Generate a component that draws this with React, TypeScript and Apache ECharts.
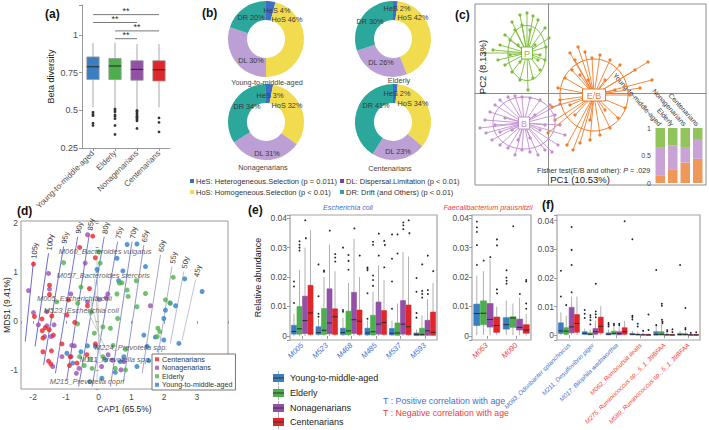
import React, { useEffect, useRef } from "react";
import * as echarts from "echarts";

const FONT = "'Liberation Sans', Arial, Helvetica, sans-serif";

// ---------------- shared ----------------
const ageGroups = ["Young-to-middle-aged", "Elderly", "Nonagenarians", "Centenarians"];

// ---------------- (a) beta diversity ----------------
// [min, Q1, median, Q3, max]
const betaStats = [
  [0.52, 0.705, 0.79, 0.855, 0.947],
  [0.52, 0.705, 0.795, 0.845, 0.95],
  [0.51, 0.70, 0.772, 0.83, 0.94],
  [0.52, 0.695, 0.77, 0.83, 0.94],
];
const betaOutliers = [
  [0.487, 0.475, 0.465, 0.415, 0.40],
  [0.51, 0.50, 0.49, 0.47, 0.46, 0.445, 0.40, 0.34],
  [0.50, 0.495, 0.49, 0.48, 0.47, 0.46, 0.455, 0.45, 0.44, 0.43, 0.38],
  [0.45, 0.42, 0.357],
];
const betaSigFrom = [0, 0, 1, 1];
const betaSigTo = [3, 2, 3, 2];
const betaSigLevel = [1.136, 1.084, 1.028, 0.976];
const betaSigText = ["**", "**", "**", "**"];

// ---------------- (b) community assembly ----------------
const processCodes = ["HeS", "HoS", "DL", "DR"];
const processLegend = [
  "HeS: Heterogeneous.Selection (p = 0.011)",
  "HoS: Homogeneous.Selection (p < 0.01)",
  "DL: Dispersal.Limitation (p < 0.01)",
  "DR: Drift (and Others) (p < 0.01)",
];
const donutYoung = [4, 46, 30, 20];
const donutElderly = [2, 42, 26, 30];
const donutNona = [3, 32, 31, 34];
const donutCent = [2, 34, 23, 41];

// ---------------- (c) enterotype PCoA ----------------
const pcoaP = [
  [-6.3, 4.0], [-5.5, 4.3], [-4.8, 4.8], [-4.3, 5.8], [-3.6, 7.1], [-2.8, 7.8], [-2.1, 8.0], [-1.5, 7.7],
  [-1.0, 7.3], [-0.3, 6.5], [0.1, 5.5], [-0.2, 4.6], [-0.3, 3.3], [-0.8, 2.3], [-1.5, 1.5], [-2.0, 0.3],
  [-2.8, 1.3], [-3.6, 2.1], [-4.3, 2.8], [-5.0, 3.3], [-3.8, 3.8], [-3.0, 4.8], [-1.3, 4.8], [-1.0, 3.3],
  [-2.8, 3.1], [-1.8, 6.3], [-3.3, 6.3], [-2.6, 6.8], [-0.8, 3.8], [-3.8, 5.3],
];
const pcoaB = [
  [-6.8, -3.5], [-6.3, -2.7], [-5.8, -1.9], [-5.3, -1.2], [-4.8, -0.7], [-4.0, -0.4], [-3.3, -0.3], [-2.6, -0.4],
  [-1.8, -0.5], [-0.8, -0.7], [0.2, -1.2], [1.2, -1.1], [0.7, -2.2], [1.2, -3.2], [1.7, -4.2], [1.0, -5.2],
  [0.4, -5.9], [-0.3, -5.7], [-1.0, -6.2], [-1.8, -5.9], [-2.6, -5.7], [-3.3, -6.2], [-4.0, -5.5], [-4.8, -5.2],
  [-5.6, -4.7], [-6.2, -4.0], [-5.3, -3.2], [-4.3, -2.5], [-3.6, -3.7], [-1.3, -2.2], [-0.8, -3.7], [-1.8, -4.5],
  [-3.0, -4.7], [-0.3, -3.2], [-4.8, -3.9],
];
const pcoaEB = [
  [2.2, 4.0], [3.0, 4.6], [3.7, 4.1], [4.4, 3.5], [5.2, 3.8], [6.2, 3.3], [7.2, 2.8], [8.7, 2.3],
  [10.0, 3.1], [10.4, 1.3], [9.2, 0.5], [8.2, -0.2], [7.7, -1.5], [7.0, -2.5], [6.2, -3.5], [5.2, -4.2],
  [4.2, -4.7], [3.2, -5.0], [2.5, -5.7], [1.9, -5.2], [0.0, -4.0], [0.7, -2.7], [0.4, -1.4], [1.2, -0.7],
  [1.0, 0.5], [1.7, 1.5], [2.4, 2.3], [3.2, 1.8], [4.0, 1.3], [5.7, 1.3], [6.7, 0.3], [5.7, -1.7],
  [4.2, -2.7], [2.7, -2.2], [2.2, -1.2], [3.7, -0.7], [5.2, -0.7], [2.7, 3.3],
];
const pcoaNames = ["P", "B", "E/B"];
const pcoaCentX = [-2.1, -2.4, 4.6];
const pcoaCentY = [4.0, -3.0, -0.2];
const pcoaRadX = [1.9, 3.1, 3.4];
const pcoaRadY = [2.75, 2.6, 3.6];
const enteroShareEB = [0.13, 0.25, 0.37, 0.44];
const enteroShareB = [0.51, 0.43, 0.27, 0.36];
const enteroShareP = [0.36, 0.32, 0.36, 0.20];
const insetTicks = ["0", "0.5", "1"];

// ---------------- (d) db-RDA ----------------
const capCent = [
  [-1.99, 1.16], [-0.18, 1.73], [-0.58, 1.50], [-0.10, 1.29], [-1.50, 0.73], [-0.28, 0.66], [-1.50, 0.54],
  [-0.92, 0.43], [-0.34, 0.31], [-1.96, 0.09], [-1.73, 0.04], [-1.43, 0.10], [-0.97, 0.12], [-0.73, -0.03],
  [-1.63, -0.14], [-1.72, -0.20], [-1.51, -0.18], [-1.38, -0.29], [-1.70, -0.35], [-1.12, -0.47], [-1.70, -0.63],
  [-1.44, -0.61], [-1.53, -0.82], [-1.46, -0.88], [-0.87, -0.73], [-0.89, -0.91], [-0.66, -0.86], [-0.36, -0.69],
  [-0.10, -0.47],
];
const capNona = [
  [-2.14, 0.62], [-0.34, 1.76], [-0.41, 1.18], [-1.53, 0.97], [-1.50, 0.65], [-0.85, 0.55], [-0.34, 0.39],
  [0.28, 0.55], [0.23, 0.47], [0.03, 0.44], [1.58, 0.31], [-1.99, 0.17], [-1.58, -0.10], [-1.84, -0.08],
  [-1.36, -0.08], [-1.65, -0.32], [-1.45, -0.32], [-0.82, -0.50], [-0.74, -0.51], [-1.12, -0.73], [-0.84, -0.73],
  [-1.40, -0.93], [-0.68, -1.07], [-0.60, -0.97], [0.29, -0.69], [0.42, -0.80], [0.77, -0.83], [0.68, -1.00],
  [0.09, -0.93], [-1.58, 0.19],
];
const capElderly = [
  [-1.07, 1.19], [0.00, 1.41], [0.05, 1.18], [-0.54, 0.69], [-1.28, 0.39], [-0.64, 0.36], [-0.23, 0.18],
  [0.56, 0.55], [0.87, 0.63], [0.64, 0.77], [0.71, 0.78], [0.90, 0.50], [1.15, 0.82], [1.43, 0.56],
  [1.17, 0.29], [0.58, 0.05], [0.36, -0.15], [0.13, -0.12], [-0.64, -0.06], [-0.13, -0.25], [0.44, -0.50],
  [0.82, -0.58], [1.79, -0.32], [1.81, -0.15], [1.87, -0.22], [2.28, 0.89], [2.04, 0.43], [2.17, 0.37],
  [-0.58, -0.73], [-0.26, -0.78], [-0.20, -0.97], [-0.44, -0.91], [0.13, -0.73], [0.51, -0.97], [0.82, -1.00],
];
const capYoung = [
  [0.87, 1.56], [1.17, 1.57], [0.56, 1.28], [-0.05, 1.05], [0.74, 1.02], [1.43, 1.11], [0.61, 0.82],
  [2.63, 0.86], [3.16, 0.60], [2.19, 0.36], [2.35, 0.31], [2.04, 0.22], [1.99, 0.05], [1.38, -0.29],
  [1.73, -0.33], [1.99, -0.39], [2.45, -0.46], [1.48, -0.52], [1.17, -0.93], [1.53, -0.81], [0.66, -0.83],
  [0.21, -0.80], [-0.10, -0.52], [-0.34, -0.51], [-0.54, -0.63], [-0.79, -0.86], [0.77, -0.73], [0.51, -1.05],
  [-0.27, -1.24], [0.10, -1.17], [-0.97, -0.66],
];
const ageLineLabels = ["105y", "100y", "95y", "90y", "85y", "80y", "75y", "70y", "65y", "60y", "55y", "50y", "45y"];
const ageLineBottomX = [-2.24, -1.94, -1.68, -1.32, -0.97, -0.61, -0.20, 0.36, 0.76, 1.33, 1.79, 2.19, 2.55];
const ageLineBottomY = [-0.42, -0.52, -0.90, -1.07, -1.20, -1.34, -1.34, -1.34, -1.24, -1.07, -0.80, -0.46, -0.39];
const ageLineTopX = [-1.99, -1.53, -1.07, -0.64, -0.28, 0.17, 0.58, 1.02, 1.38, 1.89, 2.24, 2.60, 2.96];
const ageLineTopY = [1.21, 1.38, 1.52, 1.72, 1.79, 1.72, 1.62, 1.62, 1.55, 1.35, 1.11, 1.01, 0.84];
const speciesLabels = [
  "M060_Bacteroides vulgatus", "M057_Bacteroides stercoris", "M005_Escherichia coli", "M523_Escherichia coli",
  "M224_Prevotella spp.", "M111_Prevotella spp.", "M215_Prevotella copri",
];
const speciesLabelX = [-1.23, -1.29, -1.90, -1.69, -0.13, -0.59, -1.51];
const speciesLabelY = [1.41, 0.92, 0.45, 0.22, -0.55, -0.78, -1.24];
const speciesArrowX = [-0.05, -0.12, -0.25, -0.30, 0.20, 0.05, -0.05];
const speciesArrowY = [1.25, 0.85, 0.45, 0.15, -0.55, -0.72, -1.20];

// ---------------- (e) E. coli & F. prausnitzii, (f) others ----------------
const ecoliCats = ["M005", "M523", "M468", "M485", "M537", "M593"];
const ecoliYoung = [
  [0, 0.0006, 0.0015, 0.0036, 0.0075], [0, 0.0005, 0.0011, 0.0031, 0.0058], [0, 0.0004, 0.0011, 0.0026, 0.0062],
  [0, 0.0003, 0.0010, 0.0026, 0.0052], [0, 0.0003, 0.0009, 0.0025, 0.0052], [0, 0.0001, 0.0005, 0.0010, 0.0022],
];
const ecoliYoungOut = [
  [0.0112, 0.0125, 0.0168, 0.0185], [0.0065, 0.0075, 0.0135, 0.0243], [0.0082, 0.0088, 0.0300],
  [0.0058, 0.0063, 0.0145, 0.0223, 0.0228, 0.0232], [0.0092, 0.0185, 0.0262, 0.0345], [0.0062, 0.0078, 0.0150, 0.0197],
];
const ecoliElderly = [
  [0, 0.0006, 0.0024, 0.0100, 0.0225], [0, 0.0005, 0.0019, 0.0093, 0.0200], [0, 0.0004, 0.0017, 0.0084, 0.0180],
  [0, 0.0003, 0.0014, 0.0070, 0.0150], [0, 0.0002, 0.0010, 0.0044, 0.0110], [0, 0.0001, 0.0005, 0.0026, 0.0070],
];
const ecoliElderlyOut = [
  [0.0290, 0.0300, 0.0310, 0.0322], [0.0210, 0.0218, 0.0222], [0.0225, 0.0255, 0.0275],
  [0.0170, 0.0190, 0.0205, 0.0310, 0.0320], [0.0165, 0.0280, 0.0345], [0.0132, 0.0145, 0.0155, 0.0245],
];
const ecoliNona = [
  [0, 0.0008, 0.0052, 0.0135, 0.0300], [0, 0.0007, 0.0044, 0.0160, 0.0310], [0, 0.0008, 0.0055, 0.0148, 0.0330],
  [0, 0.0006, 0.0040, 0.0115, 0.0240], [0, 0.0006, 0.0040, 0.0120, 0.0285], [0, 0.0002, 0.0017, 0.0053, 0.0125],
];
const ecoliNonaOut = [[0.0335, 0.0395], [0.0360], [0.0368], [0.0275, 0.0350], [0.0365, 0.0378, 0.0388], [0.0145, 0.0158, 0.0275]];
const ecoliCent = [
  [0, 0.0005, 0.0078, 0.0172, 0.0360], [0, 0.0005, 0.0065, 0.0092, 0.0220], [0, 0.0005, 0.0050, 0.0088, 0.0200],
  [0, 0.0005, 0.0045, 0.0086, 0.0190], [0, 0.0004, 0.0031, 0.0105, 0.0270], [0, 0.0002, 0.0012, 0.0081, 0.0180],
];
const ecoliCentOut = [[], [0.0255, 0.0268, 0.0280], [0.0275], [0.0235, 0.0312, 0.0325], [0.0352, 0.0395], [0.0222]];

const faecaliCats = ["M053", "M090"];
const faecaliYoung = [[0.0003, 0.0035, 0.0076, 0.0108, 0.0205], [0.0003, 0.0023, 0.0038, 0.0062, 0.0120]];
const faecaliYoungOut = [[0.0243, 0.0310, 0.0355, 0.0370, 0.0390], [0.0180, 0.0190, 0.0200, 0.0225]];
const faecaliElderly = [[0.0003, 0.0038, 0.0077, 0.0119, 0.0220], [0.0003, 0.0029, 0.0061, 0.0065, 0.0110]];
const faecaliElderlyOut = [[0.0258], [0.0375]];
const faecaliNona = [[0.0002, 0.0030, 0.0056, 0.0110, 0.0262], [0.0002, 0.0020, 0.0029, 0.0057, 0.0130]];
const faecaliNonaOut = [[0.0270], [0.0145]];
const faecaliCent = [[0.0002, 0.0012, 0.0035, 0.0064, 0.0100], [0.0001, 0.0009, 0.0020, 0.0038, 0.0075]];
const faecaliCentOut = [[0.0147, 0.0160, 0.0310, 0.0330], [0.0092, 0.0110, 0.0125, 0.0185, 0.0190]];

const otherCats = [
  "M083_Odoribacter splanchnicus", "M211_Desulfovibrio piger", "M017_Bilophila wadsworthia",
  "M062_Romboutsia ilealis", "M275_Ruminococcus sp._5_1_39BFAA", "M589_Ruminococcus sp._5_1_39BFAA",
];
const otherPositive = [true, true, true, false, false, false];
const otherYoung = [
  [0, 0.0006, 0.0015, 0.0043, 0.0080], [0, 0.0003, 0.0006, 0.0012, 0.0023], [0, 0.0001, 0.0003, 0.0008, 0.0020],
  [0, 0.0001, 0.0003, 0.0006, 0.0015], [0, 0.0000, 0.0002, 0.0012, 0.0030], [0, 0.0000, 0.0002, 0.0006, 0.0015],
];
const otherYoungOut = [[0.0135, 0.0225], [0.0045, 0.0060, 0.0075, 0.0088], [0.0030, 0.0036, 0.0042], [0.0055, 0.0063, 0.0068, 0.0335], [0.0035, 0.0228], [0.0245]];
const otherElderly = [
  [0, 0.0003, 0.0014, 0.0026, 0.0068], [0, 0.0001, 0.0003, 0.0008, 0.0020], [0, 0.0003, 0.0006, 0.0014, 0.0030],
  [0, 0.0000, 0.0002, 0.0004, 0.0012], [0, 0.0000, 0.0003, 0.0012, 0.0040], [0, 0.0000, 0.0002, 0.0005, 0.0012],
];
const otherElderlyOut = [[0.0105], [0.0040, 0.0055, 0.0065, 0.0072], [0.0035, 0.0040], [0.0030, 0.0040, 0.0045], [0.0045, 0.0050, 0.0056, 0.0105, 0.0112], [0.0020, 0.0025, 0.0095]];
const otherNona = [
  [0, 0.0008, 0.0029, 0.0097, 0.0135], [0, 0.0003, 0.0012, 0.0023, 0.0050], [0, 0.0001, 0.0005, 0.0012, 0.0030],
  [0, 0.0000, 0.0001, 0.0003, 0.0008], [0, 0.0000, 0.0001, 0.0003, 0.0008], [0, 0.0000, 0.0001, 0.0002, 0.0005],
];
const otherNonaOut = [[0.0150, 0.0245, 0.0298, 0.0378], [0.0065, 0.0075, 0.0085, 0.0182], [0.0035, 0.0040, 0.0045], [0.0015], [0.0015, 0.0020], [0.0008]];
const otherCent = [
  [0, 0.0010, 0.0041, 0.0072, 0.0135], [0, 0.0008, 0.0031, 0.0063, 0.0102], [0, 0.0003, 0.0012, 0.0026, 0.0050],
  [0, 0.0000, 0.0001, 0.0002, 0.0006], [0, 0.0000, 0.0001, 0.0002, 0.0006], [0, 0.0000, 0.0001, 0.0002, 0.0005],
];
const otherCentOut = [[], [], [0.0398], [0.0018, 0.0072], [0.0012, 0.0022], [0.0010]];
const trendNotes = ["T : Positive correlation with age", "T : Negative correlation with age"];

// ---------------- styles ----------------
const groupColors = ["#3a7ec0", "#4cae4c", "#9350a6", "#e0262b"];
const capColors = ["#2f7fc6", "#4db14a", "#9b4fb0", "#e8262b"];
const processColors = ["#3c6fc6", "#f1dc4f", "#bb9fd5", "#2ba79c"];
const processLegendColors = ["#3c6fc6", "#f1dc4f", "#7a3fa3", "#2ba79c"];
const pcoaColors = ["#7cbd3a", "#c28fd0", "#f07d2a"];
const insetColors = ["#f0975a", "#c9a3d6", "#92c45c"];
const BLUE = "#3f6fd0";
const RED = "#f23b3b";
const donutCenters = [[266, 39], [393, 39], [266, 122], [393, 122]];
const donutLabelPos = [
  [[277, 10], [287, 19], [251, 60], [251, 17]],
  [[397, 8], [413, 17], [381, 62], [370, 21]],
  [[270, 95], [287, 105], [267, 153], [247, 106]],
  [[397, 93], [413, 103], [398, 151], [376, 105]],
];
const donutTitlePos = [[267, 82], [399, 80], [263, 167], [390, 168]];
const ageLineColors = ["#6a6ad2", "#6a6ad2", "#6f6fd2", "#7373d2", "#7878d2", "#7e7ed2", "#8585d2", "#8d8dd2", "#9898d0", "#a8a8cc", "#b4b4ce", "#bdbdd2", "#c4c4d6"];

const tickFmt = (step: number) => (v: number) => {
  const r = Math.round(v / step) * step;
  if (Math.abs(v - r) > step * 1e-4) return "";
  const s = Number(r.toFixed(4));
  return String(s);
};

function boxSeries(name: string, axis: number, stats: number[][], outs: number[][], g: number, nG: number, color: string, o: any) {
  const rows = stats.map((s, c) => ({ c, s, o: outs[c] }));
  return {
    type: "custom",
    name,
    xAxisIndex: axis,
    yAxisIndex: axis,
    silent: true,
    data: rows.map((r) => [r.c, r.s[2]]),
    encode: { x: 0, y: 1 },
    renderItem: (params: any, api: any) => {
      const r = rows[params.dataIndex];
      const band = api.size([1, 0])[0];
      const slot = (band * o.groupFrac) / nG;
      const bw = slot * o.boxFrac;
      const x = api.coord([r.c, 0])[0] + (g - (nG - 1) / 2) * slot;
      const Y = (v: number) => api.coord([r.c, v])[1];
      const [mn, q1, md, q3, mx] = r.s.map(Y);
      const children: any[] = [
        { type: "line", shape: { x1: x, y1: mx, x2: x, y2: mn }, style: { stroke: o.whisker, lineWidth: o.wl } },
        { type: "rect", shape: { x: x - bw / 2, y: q3, width: bw, height: Math.max(q1 - q3, 0.8) }, style: { fill: color, stroke: o.boxStroke || color, lineWidth: 0.6 } },
        { type: "line", shape: { x1: x - bw / 2, y1: md, x2: x + bw / 2, y2: md }, style: { stroke: "#2b2b2b", lineWidth: 1 } },
      ];
      r.o.forEach((v) => children.push({ type: "circle", shape: { cx: x, cy: Y(v), r: o.or }, style: { fill: "#222" } }));
      return { type: "group", children };
    },
  };
}

function spokeSeries(points: number[][], gi: number) {
  const color = pcoaColors[gi];
  return {
    type: "custom",
    xAxisIndex: 1,
    yAxisIndex: 1,
    silent: true,
    data: points,
    encode: { x: 0, y: 1 },
    renderItem: (params: any, api: any) => {
      const a = api.coord([api.value(0), api.value(1)]);
      const c = api.coord([pcoaCentX[gi], pcoaCentY[gi]]);
      return {
        type: "group",
        children: [
          { type: "line", shape: { x1: a[0], y1: a[1], x2: c[0], y2: c[1] }, style: { stroke: color, lineWidth: 0.9 } },
          { type: "circle", shape: { cx: a[0], cy: a[1], r: 1.6 }, style: { fill: color } },
        ],
      };
    },
  };
}

function buildOption() {
  const gBase = { containLabel: false, outerBoundsMode: "none" };
  const frame = { show: true, borderColor: "#a3a3a3", borderWidth: 1.2, backgroundColor: "transparent" };
  const eTick = { show: true, length: 3, lineStyle: { color: "#999" } };
  const eYAxis = (idx: number, min: number, max: number, extra: any = {}) => ({
    type: "value", gridIndex: idx, min, max, splitNumber: 4,
    axisLine: { show: false }, axisTick: eTick, splitLine: { show: false },
    axisLabel: { fontSize: 8.5, color: "#4d4d4d", margin: 3, formatter: tickFmt(0.01) },
    ...extra,
  });
  const eXAxis = (idx: number, cats: string[], colorFn: any, fontSize: number) => ({
    type: "category", gridIndex: idx, data: cats,
    axisLine: { show: false }, axisTick: { show: true, alignWithLabel: true, length: 3, lineStyle: { color: "#999" } },
    axisLabel: { rotate: 45, fontSize, fontStyle: "italic", color: colorFn, margin: 4, interval: 0 },
  });
  const boxOpts = { groupFrac: 0.9, boxFrac: 0.92, whisker: "#b0b0b0", wl: 1, or: 0.9 };
  const statsSets = {
    ecoli: [[ecoliYoung, ecoliYoungOut], [ecoliElderly, ecoliElderlyOut], [ecoliNona, ecoliNonaOut], [ecoliCent, ecoliCentOut]],
    faecali: [[faecaliYoung, faecaliYoungOut], [faecaliElderly, faecaliElderlyOut], [faecaliNona, faecaliNonaOut], [faecaliCent, faecaliCentOut]],
    other: [[otherYoung, otherYoungOut], [otherElderly, otherElderlyOut], [otherNona, otherNonaOut], [otherCent, otherCentOut]],
  };

  const series: any[] = [];

  // (a)
  betaStats.forEach((s, i) => {
    series.push({
      type: "custom", xAxisIndex: 0, yAxisIndex: 0, silent: true,
      data: [[i, s[2]]],
      encode: { x: 0, y: 1 },
      renderItem: (params: any, api: any) => {
        const band = api.size([1, 0])[0];
        const bw = band * 0.56;
        const x = api.coord([i, 0])[0];
        const Y = (v: number) => api.coord([i, v])[1];
        const [mn, q1, md, q3, mx] = s.map(Y);
        const ch: any[] = [
          { type: "line", shape: { x1: x, y1: mx, x2: x, y2: mn }, style: { stroke: "#a8a8a8", lineWidth: 1 } },
          { type: "rect", shape: { x: x - bw / 2, y: q3, width: bw, height: q1 - q3 }, style: { fill: groupColors[i], stroke: "#9a9a9a", lineWidth: 0.8 } },
          { type: "line", shape: { x1: x - bw / 2, y1: md, x2: x + bw / 2, y2: md }, style: { stroke: "#333", lineWidth: 1.2 } },
        ];
        betaOutliers[i].forEach((v) => ch.push({ type: "circle", shape: { cx: x, cy: Y(v), r: 1.4 }, style: { fill: "#333" } }));
        return { type: "group", children: ch };
      },
    });
  });
  series.push({
    type: "custom", xAxisIndex: 0, yAxisIndex: 0, silent: true,
    data: betaSigLevel.map((y, k) => [betaSigFrom[k], betaSigTo[k], y]),
    encode: { x: [0, 1], y: 2 },
    renderItem: (params: any, api: any) => {
      const a = api.coord([api.value(0), api.value(2)]);
      const b = api.coord([api.value(1), api.value(2)]);
      return {
        type: "group",
        children: [
          { type: "line", shape: { x1: a[0], y1: a[1], x2: b[0], y2: b[1] }, style: { stroke: "#777", lineWidth: 1 } },
          { type: "text", x: (a[0] + b[0]) / 2, y: a[1] + 1, style: { text: betaSigText[params.dataIndex], fontSize: 9, fill: "#333", fontFamily: FONT, textAlign: "center", textVerticalAlign: "bottom" } },
        ],
      };
    },
  });

  // (b) donuts
  [donutYoung, donutElderly, donutNona, donutCent].forEach((vals, d) => {
    series.push({
      type: "pie", center: donutCenters[d], radius: [19, 38], startAngle: 90, clockwise: true, silent: true, z: 1,
      label: { show: false }, labelLine: { show: false }, emphasis: { disabled: true },
      data: vals.map((v, k) => ({ value: v, name: processCodes[k], itemStyle: { color: processColors[k], borderWidth: 0 } })),
    });
  });

  // (c)
  series.push(spokeSeries(pcoaP, 0), spokeSeries(pcoaB, 1), spokeSeries(pcoaEB, 2));
  series.push({
    type: "custom", xAxisIndex: 1, yAxisIndex: 1, silent: true,
    data: pcoaNames.map((n, i) => [pcoaCentX[i], pcoaCentY[i], pcoaRadX[i], pcoaRadY[i]]),
    encode: { x: 0, y: 1 },
    renderItem: (params: any, api: any) => {
      const i = params.dataIndex;
      const c = api.coord([api.value(0), api.value(1)]);
      const s = api.size([api.value(2), api.value(3)]);
      const col = pcoaColors[i];
      const w = pcoaNames[i].length * 6 + 5;
      return {
        type: "group",
        children: [
          { type: "ellipse", shape: { cx: c[0], cy: c[1], rx: s[0], ry: s[1] }, style: { fill: "none", stroke: col, lineWidth: 1 } },
          { type: "rect", shape: { x: c[0] - w / 2, y: c[1] - 6, width: w, height: 12 }, style: { fill: "#fff", stroke: col, lineWidth: 1 } },
          { type: "text", x: c[0], y: c[1] + 0.5, style: { text: pcoaNames[i], fill: col, fontSize: 9, fontFamily: FONT, textAlign: "center", textVerticalAlign: "middle" } },
        ],
      };
    },
  });
  [enteroShareEB, enteroShareB, enteroShareP].forEach((vals, k) => {
    series.push({
      type: "bar", xAxisIndex: 2, yAxisIndex: 2, stack: "ent", barWidth: "76%", silent: true,
      data: vals, itemStyle: { color: insetColors[k] },
    });
  });

  // (d)
  series.push({
    type: "custom", xAxisIndex: 3, yAxisIndex: 3, silent: true,
    data: ageLineLabels.map((l, i) => [ageLineBottomX[i], ageLineBottomY[i], ageLineTopX[i], ageLineTopY[i]]),
    encode: { x: [0, 2], y: [1, 3] },
    renderItem: (params: any, api: any) => {
      const i = params.dataIndex;
      const a = api.coord([api.value(0), api.value(1)]);
      const b = api.coord([api.value(2), api.value(3)]);
      const ang = Math.atan2(a[1] - b[1], b[0] - a[0]);
      return {
        type: "group",
        children: [
          { type: "line", shape: { x1: a[0], y1: a[1], x2: b[0], y2: b[1] }, style: { stroke: ageLineColors[i], lineWidth: 1 } },
          { type: "text", x: b[0] + 3 * Math.cos(ang), y: b[1] - 3 * Math.sin(ang), rotation: ang, style: { text: ageLineLabels[i], fontSize: 7.5, fill: "#333", fontFamily: FONT, textAlign: "left", textVerticalAlign: "middle" } },
        ],
      };
    },
  });
  series.push({
    type: "custom", xAxisIndex: 3, yAxisIndex: 3, silent: true,
    data: speciesArrowX.map((x, i) => [0, -0.25, x, speciesArrowY[i]]),
    encode: { x: [0, 2], y: [1, 3] },
    renderItem: (params: any, api: any) => {
      const a = api.coord([api.value(0), api.value(1)]);
      const b = api.coord([api.value(2), api.value(3)]);
      return { type: "line", shape: { x1: a[0], y1: a[1], x2: b[0], y2: b[1] }, style: { stroke: "#bdbdbd", lineWidth: 0.8 } };
    },
  });
  const capSets = [capYoung, capElderly, capNona, capCent];
  capSets.forEach((pts, g) => {
    series.push({
      type: "scatter", name: ageGroups[g], xAxisIndex: 3, yAxisIndex: 3, data: pts, symbolSize: 5, silent: true,
      itemStyle: { color: capColors[g] },
    });
  });
  series.push({
    type: "scatter", xAxisIndex: 3, yAxisIndex: 3, silent: true, symbolSize: 1,
    itemStyle: { color: "transparent" },
    data: speciesLabelX.map((x, i) => [x, speciesLabelY[i]]),
    label: { show: true, position: "right", distance: 0, formatter: (p: any) => speciesLabels[p.dataIndex], fontSize: 7.5, fontStyle: "italic", color: "#333" },
  });

  // (e)/(f)
  const addBoxes = (axis: number, sets: any[]) => {
    sets.forEach(([st, ou]: any, g: number) => series.push(boxSeries("bx" + axis + "_" + g, axis, st, ou, g, 4, groupColors[g], boxOpts)));
  };
  addBoxes(4, statsSets.ecoli);
  addBoxes(5, statsSets.faecali);
  addBoxes(6, statsSets.other);

  // graphics
  const gText = (text: string, x: number, y: number, s: any = {}, extra: any = {}) => ({
    type: "text", x, y, silent: true, z: 100, ...extra,
    style: { text, fontSize: 8, fill: "#333", fontFamily: FONT, textAlign: "center", textVerticalAlign: "middle", ...s },
  });
  const graphics: any[] = [];
  const panelLab = [["(a)", 45, 14], ["(b)", 202, 13], ["(c)", 455, 15], ["(d)", 17, 211], ["(e)", 248, 210], ["(f)", 542, 205]];
  panelLab.forEach(([t, x, y]: any) => graphics.push(gText(t, x, y, { fontSize: 12, fontWeight: "bold", fill: "#111", textAlign: "left" })));

  // (b) labels
  [donutYoung, donutElderly, donutNona, donutCent].forEach((vals, d) => {
    vals.forEach((v, k) => {
      const [x, y] = donutLabelPos[d][k];
      graphics.push(gText(`${processCodes[k]} ${v}%`, x, y, { fontSize: 7.3, fill: "#3a3a3a" }));
    });
    const [tx, ty] = donutTitlePos[d];
    graphics.push(gText(ageGroups[d], tx, ty, { fontSize: 7.3, fill: "#444" }));
  });
  processLegend.forEach((t, k) => {
    const col = k < 2 ? 190 : 340;
    const y = k % 2 === 0 ? 181 : 192;
    graphics.push({ type: "rect", silent: true, z: 100, shape: { x: col, y: y - 2, width: 4, height: 4 }, style: { fill: processLegendColors[k] } });
    graphics.push(gText(t, col + 6, y, { fontSize: 7.5, fill: "#333", textAlign: "left" }));
  });

  // (c) texts
  graphics.push(gText("PC1 (10.53%)", 580, 179, { fontSize: 9.5, fill: "#222" }));
  graphics.push(gText("PC2 (8.13%)", 482, 67, { fontSize: 9.5, fill: "#222" }, { rotation: Math.PI / 2 }));
  graphics.push({
    type: "text", x: 537, y: 170, silent: true, z: 100,
    style: {
      text: "Fisher test(E/B and other): {i|P} = .029", fontSize: 7.2, fill: "#333", fontFamily: FONT,
      textAlign: "left", textVerticalAlign: "middle", rich: { i: { fontStyle: "italic", fontSize: 7.2, fill: "#333", fontFamily: FONT } },
    },
  });

  // (d) y title
  graphics.push(gText("MDS1 (9.41%)", 7, 305, { fontSize: 8.5, fill: "#222" }, { rotation: Math.PI / 2 }));

  // (e) titles
  graphics.push(gText("Escherichia coli", 348, 207, { fontSize: 7.2, fill: BLUE, fontStyle: "italic" }));
  graphics.push(gText("Faecalibacterium prausnitzii", 488, 207, { fontSize: 7.2, fill: RED, fontStyle: "italic" }));

  // (e) legend
  const legY = [378, 393, 408, 422];
  ageGroups.forEach((g, i) => {
    const c = legY[i];
    graphics.push({ type: "line", silent: true, z: 100, shape: { x1: 278.5, y1: c - 7, x2: 278.5, y2: c + 7 }, style: { stroke: "#b0b0b0", lineWidth: 1 } });
    graphics.push({ type: "rect", silent: true, z: 101, shape: { x: 273, y: c - 4, width: 11, height: 8 }, style: { fill: groupColors[i] } });
    graphics.push({ type: "line", silent: true, z: 102, shape: { x1: 273, y1: c, x2: 284, y2: c }, style: { stroke: "#333", lineWidth: 1 } });
    graphics.push(gText(g, 290, c, { fontSize: 9, fill: "#222", textAlign: "left" }));
  });
  graphics.push(gText(trendNotes[0], 383, 401, { fontSize: 8.8, fill: BLUE, textAlign: "left" }));
  graphics.push(gText(trendNotes[1], 383, 413, { fontSize: 8.8, fill: RED, textAlign: "left" }));

  return {
    animation: false,
    textStyle: { fontFamily: FONT },
    graphic: { elements: graphics },
    legend: [{
      data: ["Centenarians", "Nonagenarians", "Elderly", "Young-to-middle-aged"],
      left: 152, top: 354, orient: "vertical", icon: "rect", itemWidth: 4, itemHeight: 4, itemGap: 0,
      padding: [1, 3, 1, 3], borderColor: "#777", borderWidth: 1, backgroundColor: "#fff", selectedMode: false,
      textStyle: { fontSize: 7.2, color: "#333", lineHeight: 8.5, padding: [0, 0, 0, -2] },
    }],
    grid: [
      { left: 82, top: 5, width: 88, height: 143, ...gBase },
      { left: 475, top: 4, width: 231, height: 181, show: true, borderColor: "#8c8c8c", borderWidth: 1, ...gBase },
      { left: 654, top: 128, width: 50, height: 55, ...gBase },
      { left: 21, top: 221, width: 207, height: 168, show: true, borderColor: "#9a9a9a", borderWidth: 1, ...gBase },
      { left: 290, top: 215, width: 147, height: 125, ...frame, ...gBase },
      { left: 472, top: 215, width: 59, height: 125, ...frame, ...gBase },
      { left: 557, top: 215, width: 143, height: 125, ...frame, ...gBase },
    ],
    xAxis: [
      {
        type: "category", gridIndex: 0, data: ageGroups,
        axisLine: { show: true, lineStyle: { color: "#999" } }, axisTick: { show: true, alignWithLabel: true, length: 3, lineStyle: { color: "#999" } },
        axisLabel: { rotate: 45, fontSize: 8, color: "#4d4d4d", margin: 4, interval: 0 },
      },
      {
        type: "value", gridIndex: 1, min: -7.3, max: 15.8,
        axisLine: { show: true, onZero: true, lineStyle: { color: "#8c8c8c" } }, axisTick: { show: false }, axisLabel: { show: false }, splitLine: { show: false },
      },
      {
        type: "category", gridIndex: 2, data: ageGroups, position: "top",
        axisLine: { show: false }, axisTick: { show: false },
        axisLabel: { rotate: -48, fontSize: 7, color: "#333", margin: 3, interval: 0 },
      },
      {
        type: "value", gridIndex: 3, min: -2.37, max: 3.95,
        axisLine: { show: false }, axisTick: { show: true, length: 3, lineStyle: { color: "#999" } }, splitLine: { show: false },
        axisLabel: { fontSize: 8.5, color: "#4d4d4d", margin: 3, formatter: tickFmt(1) },
        name: "CAP1 (65.5%)", nameLocation: "middle", nameGap: 15, nameTextStyle: { fontSize: 8.5, color: "#222" },
      },
      eXAxis(4, ecoliCats, BLUE, 7.5),
      eXAxis(5, faecaliCats, RED, 7.5),
      eXAxis(6, otherCats, (v: any, i: number) => (otherPositive[i] ? BLUE : RED), 6.3),
    ],
    yAxis: [
      {
        type: "value", gridIndex: 0, min: 0.25, max: 1.2, interval: 0.25,
        axisLine: { show: true, lineStyle: { color: "#999" } }, axisTick: { show: true, length: 3, lineStyle: { color: "#999" } }, splitLine: { show: false },
        axisLabel: { fontSize: 9, color: "#4d4d4d", margin: 4, formatter: tickFmt(0.25) },
        name: "Beta diversity", nameLocation: "middle", nameGap: 27, nameTextStyle: { fontSize: 9, color: "#222" },
      },
      {
        type: "value", gridIndex: 1, min: -9.2, max: 8.9,
        axisLine: { show: true, onZero: true, lineStyle: { color: "#8c8c8c" } }, axisTick: { show: false }, axisLabel: { show: false }, splitLine: { show: false },
      },
      {
        type: "value", gridIndex: 2, min: 0, max: 1, interval: 0.5,
        axisLine: { show: false }, axisTick: { show: false }, splitLine: { show: false },
        axisLabel: { fontSize: 7, color: "#444", margin: 3, formatter: (v: number) => insetTicks[Math.round(v * 2)] },
      },
      {
        type: "value", gridIndex: 3, min: -1.39, max: 2.04,
        axisLine: { show: false }, axisTick: { show: true, length: 3, lineStyle: { color: "#999" } }, splitLine: { show: false },
        axisLabel: { fontSize: 8.5, color: "#4d4d4d", margin: 3, formatter: tickFmt(1) },
      },
      eYAxis(4, -0.0014, 0.0411, { name: "Relative abundance", nameLocation: "middle", nameGap: 28, nameTextStyle: { fontSize: 9, color: "#222" } }),
      eYAxis(5, -0.0014, 0.0411),
      eYAxis(6, -0.0017, 0.042),
    ],
    series,
  };
}

export default function App() {
  const ref = useRef<HTMLDivElement>(null);
  useEffect(() => {
    document.body.style.margin = "0";
    const chart = echarts.init(ref.current as HTMLDivElement, null, { renderer: "svg" });
    chart.setOption(buildOption() as any);
    return () => chart.dispose();
  }, []);
  return <div ref={ref} style={{ width: 709, height: 430, background: "#fff" }} />;
}
